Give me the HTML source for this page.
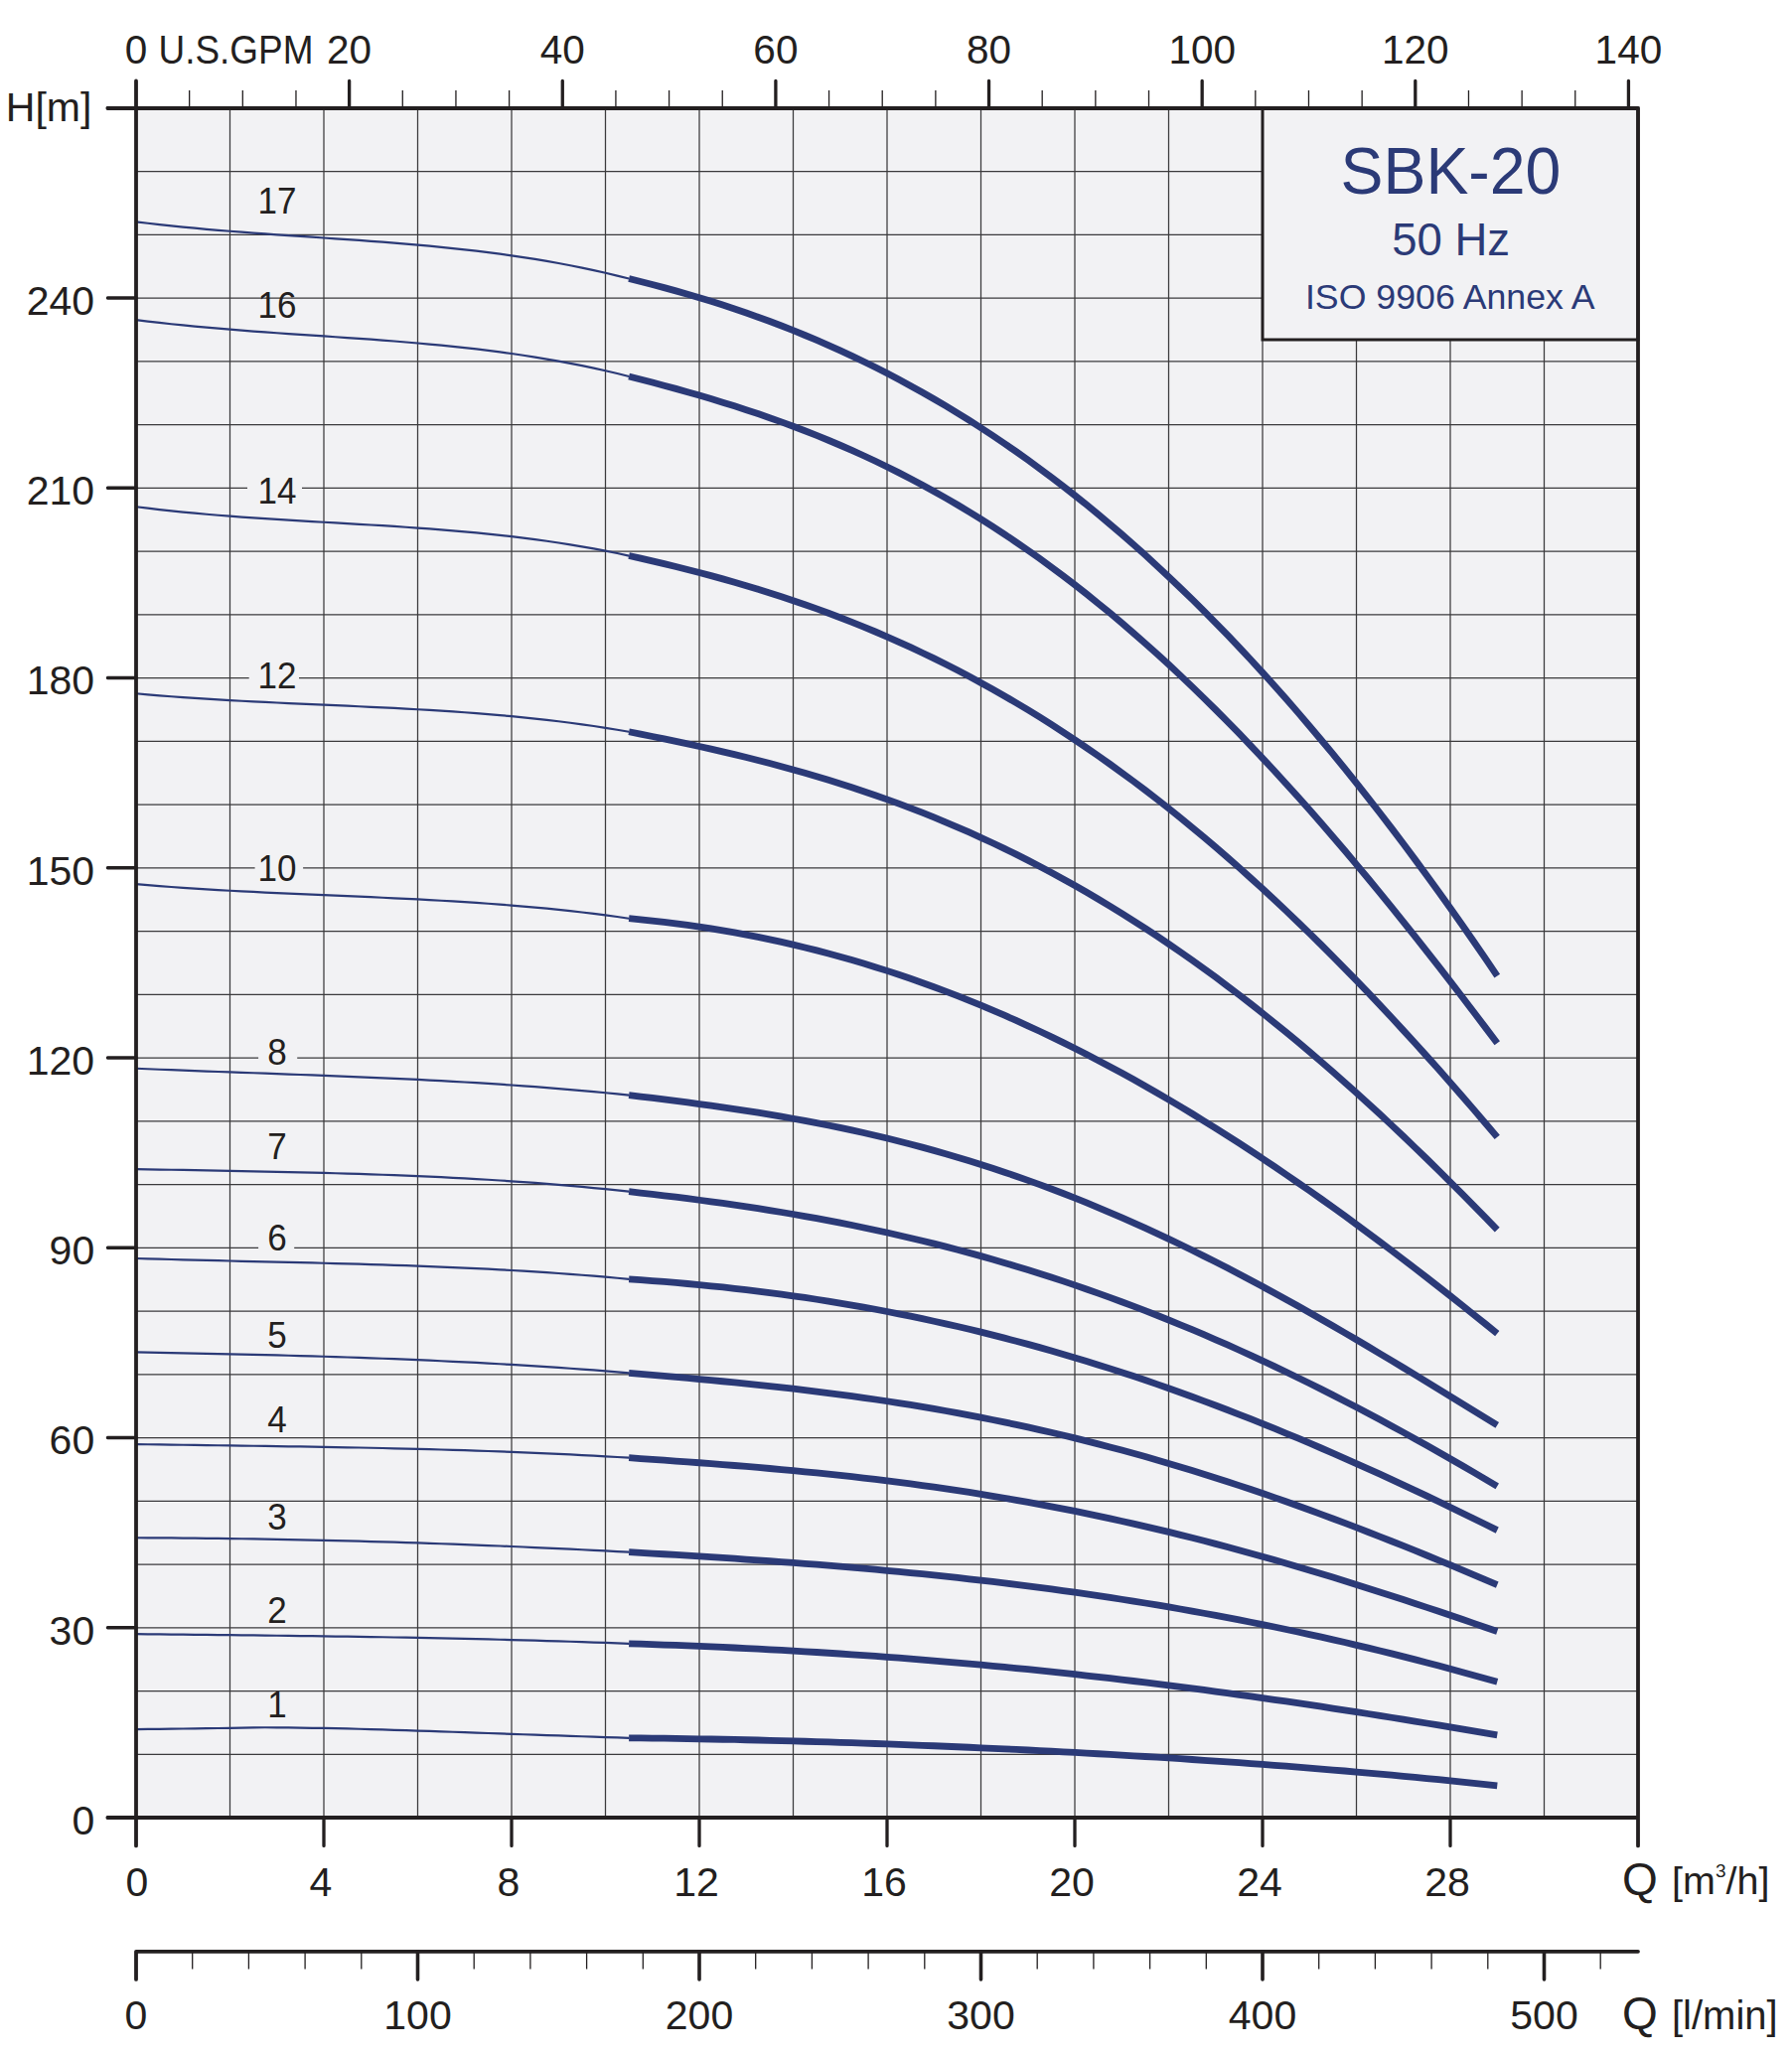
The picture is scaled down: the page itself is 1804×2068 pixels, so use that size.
<!DOCTYPE html><html><head><meta charset="utf-8"><title>SBK-20 pump curves</title><style>html,body{margin:0;padding:0;background:#fff;overflow:hidden}svg{display:block}</style></head><body>
<svg width="1804" height="2068" viewBox="0 0 1804 2068" font-family="'Liberation Sans', sans-serif">
<rect x="0" y="0" width="1804" height="2068" fill="#fff"/>
<rect x="137.0" y="109" width="1512.00" height="1721.0" fill="#f2f2f4"/>
<path d="M231.50 109V1830.0 M326.00 109V1830.0 M420.50 109V1830.0 M515.00 109V1830.0 M609.50 109V1830.0 M704.00 109V1830.0 M798.50 109V1830.0 M893.00 109V1830.0 M987.50 109V1830.0 M1082.00 109V1830.0 M1176.50 109V1830.0 M1271.00 342V1830.0 M1365.50 342V1830.0 M1460.00 342V1830.0 M1554.50 342V1830.0 M137.0 1766.25H1649.00 M137.0 1702.50H1649.00 M137.0 1638.75H1649.00 M137.0 1575.00H1649.00 M137.0 1511.25H1649.00 M137.0 1447.50H1649.00 M137.0 1383.75H1649.00 M137.0 1320.00H1649.00 M137.0 1256.25H1649.00 M137.0 1192.50H1649.00 M137.0 1128.75H1649.00 M137.0 1065.00H1649.00 M137.0 1001.25H1649.00 M137.0 937.50H1649.00 M137.0 873.75H1649.00 M137.0 810.00H1649.00 M137.0 746.25H1649.00 M137.0 682.50H1649.00 M137.0 618.75H1649.00 M137.0 555.00H1649.00 M137.0 491.25H1649.00 M137.0 427.50H1649.00 M137.0 363.75H1649.00 M137.0 300.00H1271.00 M137.0 236.25H1271.00 M137.0 172.50H1271.00" stroke="#3b3a3c" stroke-width="1.25" fill="none"/>
<text x="279" y="215.3" font-size="36.5" text-anchor="middle" fill="#231f20" transform="translate(279 0) scale(0.96 1) translate(-279 0)">17</text>
<text x="279" y="319.9" font-size="36.5" text-anchor="middle" fill="#231f20" transform="translate(279 0) scale(0.96 1) translate(-279 0)">16</text>
<rect x="249" y="479.7" width="55.0" height="30" fill="#f2f2f4"/>
<text x="279" y="507.5" font-size="36.5" text-anchor="middle" fill="#231f20" transform="translate(279 0) scale(0.96 1) translate(-279 0)">14</text>
<rect x="250.7" y="665.4" width="50.3" height="30" fill="#f2f2f4"/>
<text x="279" y="693.2" font-size="36.5" text-anchor="middle" fill="#231f20" transform="translate(279 0) scale(0.96 1) translate(-279 0)">12</text>
<rect x="256.6" y="859.1" width="48.5" height="30" fill="#f2f2f4"/>
<text x="279" y="886.9" font-size="36.5" text-anchor="middle" fill="#231f20" transform="translate(279 0) scale(0.96 1) translate(-279 0)">10</text>
<rect x="260.1" y="1043.8" width="39.1" height="30" fill="#f2f2f4"/>
<text x="279" y="1071.6" font-size="36.5" text-anchor="middle" fill="#231f20" transform="translate(279 0) scale(0.96 1) translate(-279 0)">8</text>
<text x="279" y="1166.6" font-size="36.5" text-anchor="middle" fill="#231f20" transform="translate(279 0) scale(0.96 1) translate(-279 0)">7</text>
<rect x="260.1" y="1231.3" width="36.1" height="30" fill="#f2f2f4"/>
<text x="279" y="1259.1" font-size="36.5" text-anchor="middle" fill="#231f20" transform="translate(279 0) scale(0.96 1) translate(-279 0)">6</text>
<text x="279" y="1356.7" font-size="36.5" text-anchor="middle" fill="#231f20" transform="translate(279 0) scale(0.96 1) translate(-279 0)">5</text>
<text x="279" y="1441.6" font-size="36.5" text-anchor="middle" fill="#231f20" transform="translate(279 0) scale(0.96 1) translate(-279 0)">4</text>
<text x="279" y="1540.3" font-size="36.5" text-anchor="middle" fill="#231f20" transform="translate(279 0) scale(0.96 1) translate(-279 0)">3</text>
<text x="279" y="1633.8" font-size="36.5" text-anchor="middle" fill="#231f20" transform="translate(279 0) scale(0.96 1) translate(-279 0)">2</text>
<text x="279" y="1729.4" font-size="36.5" text-anchor="middle" fill="#231f20" transform="translate(279 0) scale(0.96 1) translate(-279 0)">1</text>
<polyline points="137.00,223.31 148.81,224.75 160.62,226.10 172.44,227.38 184.25,228.58 196.06,229.71 207.88,230.78 219.69,231.80 231.50,232.77 243.31,233.69 255.12,234.58 266.94,235.44 278.75,236.28 290.56,237.09 302.38,237.90 314.19,238.70 326.00,239.50 337.81,240.30 349.62,241.12 361.44,241.96 373.25,242.82 385.06,243.71 396.88,244.64 408.69,245.62 420.50,246.64 432.31,247.72 444.12,248.86 455.94,250.07 467.75,251.35 479.56,252.71 491.38,254.16 503.19,255.71 515.00,257.35 526.81,259.09 538.62,260.95 550.44,262.92 562.25,265.02 574.06,267.25 585.88,269.61 597.69,272.11 609.50,274.76 621.31,277.57 633.12,280.53" fill="none" stroke="#2b3a77" stroke-width="2.2" stroke-linejoin="round"/>
<polyline points="137.00,322.09 148.81,323.56 160.62,324.93 172.44,326.23 184.25,327.45 196.06,328.60 207.88,329.69 219.69,330.72 231.50,331.70 243.31,332.63 255.12,333.53 266.94,334.39 278.75,335.23 290.56,336.05 302.38,336.85 314.19,337.64 326.00,338.44 337.81,339.24 349.62,340.05 361.44,340.87 373.25,341.72 385.06,342.60 396.88,343.52 408.69,344.48 420.50,345.48 432.31,346.55 444.12,347.67 455.94,348.86 467.75,350.12 479.56,351.46 491.38,352.89 503.19,354.41 515.00,356.03 526.81,357.75 538.62,359.59 550.44,361.54 562.25,363.61 574.06,365.81 585.88,368.15 597.69,370.63 609.50,373.26 621.31,376.04 633.12,378.99" fill="none" stroke="#2b3a77" stroke-width="2.2" stroke-linejoin="round"/>
<polyline points="137.00,510.22 148.81,511.69 160.62,513.06 172.44,514.35 184.25,515.55 196.06,516.68 207.88,517.74 219.69,518.73 231.50,519.66 243.31,520.54 255.12,521.38 266.94,522.17 278.75,522.93 290.56,523.67 302.38,524.38 314.19,525.07 326.00,525.75 337.81,526.43 349.62,527.11 361.44,527.80 373.25,528.50 385.06,529.22 396.88,529.97 408.69,530.74 420.50,531.56 432.31,532.42 444.12,533.33 455.94,534.30 467.75,535.32 479.56,536.42 491.38,537.59 503.19,538.83 515.00,540.17 526.81,541.59 538.62,543.12 550.44,544.74 562.25,546.48 574.06,548.33 585.88,550.31 597.69,552.41 609.50,554.65 621.31,557.02 633.12,559.55" fill="none" stroke="#2b3a77" stroke-width="2.2" stroke-linejoin="round"/>
<polyline points="137.00,698.27 148.81,699.33 160.62,700.32 172.44,701.25 184.25,702.12 196.06,702.93 207.88,703.70 219.69,704.42 231.50,705.11 243.31,705.75 255.12,706.37 266.94,706.95 278.75,707.52 290.56,708.07 302.38,708.60 314.19,709.13 326.00,709.65 337.81,710.18 349.62,710.70 361.44,711.24 373.25,711.79 385.06,712.37 396.88,712.96 408.69,713.58 420.50,714.24 432.31,714.93 444.12,715.66 455.94,716.44 467.75,717.27 479.56,718.15 491.38,719.10 503.19,720.11 515.00,721.18 526.81,722.33 538.62,723.56 550.44,724.87 562.25,726.27 574.06,727.76 585.88,729.34 597.69,731.03 609.50,732.82 621.31,734.72 633.12,736.73" fill="none" stroke="#2b3a77" stroke-width="2.2" stroke-linejoin="round"/>
<polyline points="137.00,890.12 148.81,891.13 160.62,892.08 172.44,892.98 184.25,893.82 196.06,894.61 207.88,895.35 219.69,896.06 231.50,896.73 243.31,897.36 255.12,897.96 266.94,898.54 278.75,899.10 290.56,899.64 302.38,900.16 314.19,900.67 326.00,901.18 337.81,901.69 349.62,902.19 361.44,902.70 373.25,903.22 385.06,903.75 396.88,904.30 408.69,904.87 420.50,905.47 432.31,906.09 444.12,906.74 455.94,907.43 467.75,908.16 479.56,908.94 491.38,909.76 503.19,910.63 515.00,911.56 526.81,912.55 538.62,913.60 550.44,914.71 562.25,915.90 574.06,917.16 585.88,918.50 597.69,919.93 609.50,921.43 621.31,923.03 633.12,924.73" fill="none" stroke="#2b3a77" stroke-width="2.2" stroke-linejoin="round"/>
<polyline points="137.00,1075.76 148.81,1076.25 160.62,1076.73 172.44,1077.20 184.25,1077.65 196.06,1078.10 207.88,1078.54 219.69,1078.98 231.50,1079.41 243.31,1079.83 255.12,1080.26 266.94,1080.68 278.75,1081.11 290.56,1081.54 302.38,1081.98 314.19,1082.42 326.00,1082.88 337.81,1083.34 349.62,1083.81 361.44,1084.30 373.25,1084.80 385.06,1085.31 396.88,1085.85 408.69,1086.40 420.50,1086.97 432.31,1087.57 444.12,1088.19 455.94,1088.84 467.75,1089.51 479.56,1090.21 491.38,1090.94 503.19,1091.70 515.00,1092.50 526.81,1093.33 538.62,1094.20 550.44,1095.11 562.25,1096.05 574.06,1097.04 585.88,1098.07 597.69,1099.14 609.50,1100.26 621.31,1101.43 633.12,1102.64" fill="none" stroke="#2b3a77" stroke-width="2.2" stroke-linejoin="round"/>
<polyline points="137.00,1177.08 148.81,1177.31 160.62,1177.54 172.44,1177.75 184.25,1177.97 196.06,1178.18 207.88,1178.40 219.69,1178.61 231.50,1178.83 243.31,1179.06 255.12,1179.29 266.94,1179.53 278.75,1179.78 290.56,1180.04 302.38,1180.32 314.19,1180.60 326.00,1180.91 337.81,1181.23 349.62,1181.57 361.44,1181.94 373.25,1182.32 385.06,1182.73 396.88,1183.17 408.69,1183.63 420.50,1184.12 432.31,1184.64 444.12,1185.20 455.94,1185.78 467.75,1186.41 479.56,1187.07 491.38,1187.76 503.19,1188.50 515.00,1189.28 526.81,1190.10 538.62,1190.97 550.44,1191.88 562.25,1192.84 574.06,1193.85 585.88,1194.91 597.69,1196.03 609.50,1197.20 621.31,1198.42 633.12,1199.70" fill="none" stroke="#2b3a77" stroke-width="2.2" stroke-linejoin="round"/>
<polyline points="137.00,1266.98 148.81,1267.34 160.62,1267.68 172.44,1268.01 184.25,1268.33 196.06,1268.63 207.88,1268.93 219.69,1269.22 231.50,1269.50 243.31,1269.78 255.12,1270.05 266.94,1270.33 278.75,1270.61 290.56,1270.89 302.38,1271.17 314.19,1271.46 326.00,1271.76 337.81,1272.07 349.62,1272.38 361.44,1272.72 373.25,1273.06 385.06,1273.42 396.88,1273.81 408.69,1274.21 420.50,1274.63 432.31,1275.07 444.12,1275.54 455.94,1276.04 467.75,1276.57 479.56,1277.12 491.38,1277.71 503.19,1278.33 515.00,1278.99 526.81,1279.68 538.62,1280.41 550.44,1281.19 562.25,1282.00 574.06,1282.86 585.88,1283.76 597.69,1284.71 609.50,1285.71 621.31,1286.76 633.12,1287.87" fill="none" stroke="#2b3a77" stroke-width="2.2" stroke-linejoin="round"/>
<polyline points="137.00,1361.41 148.81,1361.63 160.62,1361.85 172.44,1362.08 184.25,1362.31 196.06,1362.55 207.88,1362.80 219.69,1363.05 231.50,1363.31 243.31,1363.58 255.12,1363.86 266.94,1364.15 278.75,1364.45 290.56,1364.76 302.38,1365.08 314.19,1365.42 326.00,1365.77 337.81,1366.14 349.62,1366.52 361.44,1366.92 373.25,1367.34 385.06,1367.77 396.88,1368.22 408.69,1368.70 420.50,1369.19 432.31,1369.70 444.12,1370.23 455.94,1370.79 467.75,1371.37 479.56,1371.97 491.38,1372.60 503.19,1373.25 515.00,1373.93 526.81,1374.63 538.62,1375.37 550.44,1376.13 562.25,1376.92 574.06,1377.74 585.88,1378.59 597.69,1379.47 609.50,1380.38 621.31,1381.33 633.12,1382.31" fill="none" stroke="#2b3a77" stroke-width="2.2" stroke-linejoin="round"/>
<polyline points="137.00,1454.07 148.81,1454.25 160.62,1454.42 172.44,1454.60 184.25,1454.76 196.06,1454.93 207.88,1455.09 219.69,1455.26 231.50,1455.42 243.31,1455.59 255.12,1455.76 266.94,1455.93 278.75,1456.11 290.56,1456.29 302.38,1456.47 314.19,1456.67 326.00,1456.87 337.81,1457.08 349.62,1457.29 361.44,1457.52 373.25,1457.76 385.06,1458.02 396.88,1458.28 408.69,1458.56 420.50,1458.86 432.31,1459.17 444.12,1459.49 455.94,1459.84 467.75,1460.20 479.56,1460.58 491.38,1460.98 503.19,1461.41 515.00,1461.85 526.81,1462.32 538.62,1462.81 550.44,1463.33 562.25,1463.87 574.06,1464.44 585.88,1465.03 597.69,1465.66 609.50,1466.31 621.31,1466.99 633.12,1467.71" fill="none" stroke="#2b3a77" stroke-width="2.2" stroke-linejoin="round"/>
<polyline points="137.00,1548.27 148.81,1548.32 160.62,1548.38 172.44,1548.46 184.25,1548.56 196.06,1548.66 207.88,1548.79 219.69,1548.92 231.50,1549.08 243.31,1549.24 255.12,1549.43 266.94,1549.62 278.75,1549.83 290.56,1550.06 302.38,1550.29 314.19,1550.55 326.00,1550.82 337.81,1551.10 349.62,1551.39 361.44,1551.70 373.25,1552.03 385.06,1552.37 396.88,1552.72 408.69,1553.09 420.50,1553.47 432.31,1553.86 444.12,1554.27 455.94,1554.69 467.75,1555.13 479.56,1555.58 491.38,1556.05 503.19,1556.52 515.00,1557.01 526.81,1557.52 538.62,1558.04 550.44,1558.57 562.25,1559.12 574.06,1559.68 585.88,1560.25 597.69,1560.84 609.50,1561.44 621.31,1562.05 633.12,1562.68" fill="none" stroke="#2b3a77" stroke-width="2.2" stroke-linejoin="round"/>
<polyline points="137.00,1645.19 148.81,1645.32 160.62,1645.44 172.44,1645.56 184.25,1645.68 196.06,1645.81 207.88,1645.93 219.69,1646.06 231.50,1646.19 243.31,1646.32 255.12,1646.46 266.94,1646.60 278.75,1646.74 290.56,1646.89 302.38,1647.04 314.19,1647.20 326.00,1647.36 337.81,1647.53 349.62,1647.71 361.44,1647.89 373.25,1648.08 385.06,1648.27 396.88,1648.48 408.69,1648.69 420.50,1648.91 432.31,1649.14 444.12,1649.38 455.94,1649.63 467.75,1649.89 479.56,1650.16 491.38,1650.44 503.19,1650.73 515.00,1651.04 526.81,1651.36 538.62,1651.69 550.44,1652.03 562.25,1652.38 574.06,1652.75 585.88,1653.14 597.69,1653.54 609.50,1653.95 621.31,1654.38 633.12,1654.83" fill="none" stroke="#2b3a77" stroke-width="2.2" stroke-linejoin="round"/>
<polyline points="137.00,1741.07 148.81,1740.93 160.62,1740.79 172.44,1740.64 184.25,1740.48 196.06,1740.32 207.88,1740.16 219.69,1739.99 231.50,1739.82 243.31,1739.60 255.12,1739.36 266.94,1739.26 278.75,1739.30 290.56,1739.42 302.38,1739.58 314.19,1739.78 326.00,1739.97 337.81,1740.19 349.62,1740.46 361.44,1740.76 373.25,1741.09 385.06,1741.45 396.88,1741.81 408.69,1742.19 420.50,1742.55 432.31,1742.92 444.12,1743.32 455.94,1743.73 467.75,1744.14 479.56,1744.57 491.38,1745.00 503.19,1745.42 515.00,1745.83 526.81,1746.23 538.62,1746.64 550.44,1747.05 562.25,1747.45 574.06,1747.85 585.88,1748.25 597.69,1748.65 609.50,1749.04 621.31,1749.43 633.12,1749.81" fill="none" stroke="#2b3a77" stroke-width="2.2" stroke-linejoin="round"/>
<polyline points="633.12,280.53 644.94,283.45 656.75,286.47 668.56,289.61 680.38,292.86 692.19,296.23 704.00,299.73 715.81,303.35 727.62,307.11 739.44,311.01 751.25,315.05 763.06,319.23 774.88,323.56 786.69,328.05 798.50,332.69 810.31,337.49 822.12,342.45 833.94,347.58 845.75,352.88 857.56,358.35 869.38,363.99 881.19,369.82 893.00,375.83 904.81,382.02 916.62,388.40 928.44,394.97 940.25,401.73 952.06,408.69 963.88,415.84 975.69,423.20 987.50,430.76 999.31,438.52 1011.12,446.49 1022.94,454.66 1034.75,463.05 1046.56,471.65 1058.38,480.46 1070.19,489.49 1082.00,498.73 1093.81,508.20 1105.62,517.88 1117.44,527.79 1129.25,537.91 1141.06,548.27 1152.88,558.84 1164.69,569.64 1176.50,580.67 1188.31,591.93 1200.12,603.41 1211.94,615.13 1223.75,627.07 1235.56,639.24 1247.38,651.65 1259.19,664.28 1271.00,677.15 1282.81,690.24 1294.62,703.57 1306.44,717.13 1318.25,730.92 1330.06,744.94 1341.88,759.19 1353.69,773.67 1365.50,788.38 1377.31,803.32 1389.12,818.49 1400.94,833.89 1412.75,849.51 1424.56,865.36 1436.38,881.44 1448.19,897.74 1460.00,914.26 1471.81,931.01 1483.62,947.97 1495.44,965.16 1507.25,982.56" fill="none" stroke="#2b3a77" stroke-width="6.8" stroke-linejoin="round" stroke-linecap="butt"/>
<polyline points="633.12,378.99 644.94,381.99 656.75,385.06 668.56,388.19 680.38,391.40 692.19,394.69 704.00,398.07 715.81,401.55 727.62,405.14 739.44,408.84 751.25,412.66 763.06,416.60 774.88,420.68 786.69,424.90 798.50,429.26 810.31,433.77 822.12,438.43 833.94,443.26 845.75,448.25 857.56,453.42 869.38,458.75 881.19,464.27 893.00,469.97 904.81,475.86 916.62,481.95 928.44,488.22 940.25,494.70 952.06,501.37 963.88,508.26 975.69,515.34 987.50,522.64 999.31,530.15 1011.12,537.87 1022.94,545.81 1034.75,553.97 1046.56,562.35 1058.38,570.94 1070.19,579.76 1082.00,588.79 1093.81,598.05 1105.62,607.54 1117.44,617.24 1129.25,627.17 1141.06,637.32 1152.88,647.69 1164.69,658.28 1176.50,669.09 1188.31,680.12 1200.12,691.37 1211.94,702.83 1223.75,714.50 1235.56,726.39 1247.38,738.49 1259.19,750.79 1271.00,763.30 1282.81,776.01 1294.62,788.92 1306.44,802.02 1318.25,815.32 1330.06,828.80 1341.88,842.46 1353.69,856.31 1365.50,870.32 1377.31,884.51 1389.12,898.87 1400.94,913.38 1412.75,928.05 1424.56,942.87 1436.38,957.84 1448.19,972.94 1460.00,988.17 1471.81,1003.53 1483.62,1019.01 1495.44,1034.60 1507.25,1050.29" fill="none" stroke="#2b3a77" stroke-width="6.8" stroke-linejoin="round" stroke-linecap="butt"/>
<polyline points="633.12,559.55 644.94,562.18 656.75,564.88 668.56,567.66 680.38,570.53 692.19,573.47 704.00,576.51 715.81,579.65 727.62,582.88 739.44,586.22 751.25,589.67 763.06,593.24 774.88,596.92 786.69,600.73 798.50,604.66 810.31,608.72 822.12,612.91 833.94,617.24 845.75,621.72 857.56,626.33 869.38,631.10 881.19,636.01 893.00,641.07 904.81,646.30 916.62,651.68 928.44,657.22 940.25,662.92 952.06,668.79 963.88,674.83 975.69,681.04 987.50,687.42 999.31,693.97 1011.12,700.70 1022.94,707.61 1034.75,714.69 1046.56,721.95 1058.38,729.40 1070.19,737.02 1082.00,744.83 1093.81,752.82 1105.62,761.00 1117.44,769.36 1129.25,777.90 1141.06,786.63 1152.88,795.55 1164.69,804.65 1176.50,813.94 1188.31,823.41 1200.12,833.06 1211.94,842.90 1223.75,852.93 1235.56,863.14 1247.38,873.53 1259.19,884.10 1271.00,894.85 1282.81,905.78 1294.62,916.88 1306.44,928.17 1318.25,939.63 1330.06,951.26 1341.88,963.06 1353.69,975.03 1365.50,987.16 1377.31,999.47 1389.12,1011.93 1400.94,1024.55 1412.75,1037.33 1424.56,1050.27 1436.38,1063.35 1448.19,1076.59 1460.00,1089.97 1471.81,1103.49 1483.62,1117.15 1495.44,1130.95 1507.25,1144.88" fill="none" stroke="#2b3a77" stroke-width="6.8" stroke-linejoin="round" stroke-linecap="butt"/>
<polyline points="633.12,736.73 644.94,739.09 656.75,741.47 668.56,743.90 680.38,746.38 692.19,748.91 704.00,751.49 715.81,754.14 727.62,756.86 739.44,759.66 751.25,762.53 763.06,765.49 774.88,768.54 786.69,771.68 798.50,774.92 810.31,778.26 822.12,781.71 833.94,785.27 845.75,788.94 857.56,792.74 869.38,796.66 881.19,800.70 893.00,804.87 904.81,809.18 916.62,813.62 928.44,818.20 940.25,822.92 952.06,827.79 963.88,832.81 975.69,837.97 987.50,843.29 999.31,848.76 1011.12,854.39 1022.94,860.17 1034.75,866.12 1046.56,872.22 1058.38,878.49 1070.19,884.92 1082.00,891.52 1093.81,898.29 1105.62,905.22 1117.44,912.32 1129.25,919.59 1141.06,927.03 1152.88,934.64 1164.69,942.42 1176.50,950.37 1188.31,958.49 1200.12,966.78 1211.94,975.24 1223.75,983.87 1235.56,992.67 1247.38,1001.63 1259.19,1010.76 1271.00,1020.06 1282.81,1029.53 1294.62,1039.15 1306.44,1048.94 1318.25,1058.89 1330.06,1069.00 1341.88,1079.26 1353.69,1089.69 1365.50,1100.26 1377.31,1110.98 1389.12,1121.86 1400.94,1132.87 1412.75,1144.04 1424.56,1155.34 1436.38,1166.78 1448.19,1178.35 1460.00,1190.06 1471.81,1201.89 1483.62,1213.85 1495.44,1225.93 1507.25,1238.12" fill="none" stroke="#2b3a77" stroke-width="6.8" stroke-linejoin="round" stroke-linecap="butt"/>
<polyline points="633.12,924.73 644.94,925.84 656.75,927.07 668.56,928.41 680.38,929.86 692.19,931.44 704.00,933.13 715.81,934.95 727.62,936.89 739.44,938.95 751.25,941.13 763.06,943.44 774.88,945.88 786.69,948.44 798.50,951.13 810.31,953.95 822.12,956.90 833.94,959.99 845.75,963.20 857.56,966.55 869.38,970.03 881.19,973.64 893.00,977.38 904.81,981.26 916.62,985.28 928.44,989.43 940.25,993.71 952.06,998.12 963.88,1002.67 975.69,1007.36 987.50,1012.18 999.31,1017.13 1011.12,1022.22 1022.94,1027.44 1034.75,1032.79 1046.56,1038.28 1058.38,1043.90 1070.19,1049.64 1082.00,1055.52 1093.81,1061.53 1105.62,1067.67 1117.44,1073.93 1129.25,1080.33 1141.06,1086.84 1152.88,1093.49 1164.69,1100.25 1176.50,1107.14 1188.31,1114.15 1200.12,1121.28 1211.94,1128.53 1223.75,1135.89 1235.56,1143.37 1247.38,1150.97 1259.19,1158.67 1271.00,1166.49 1282.81,1174.41 1294.62,1182.44 1306.44,1190.58 1318.25,1198.81 1330.06,1207.15 1341.88,1215.58 1353.69,1224.11 1365.50,1232.74 1377.31,1241.45 1389.12,1250.25 1400.94,1259.14 1412.75,1268.11 1424.56,1277.17 1436.38,1286.30 1448.19,1295.50 1460.00,1304.78 1471.81,1314.12 1483.62,1323.54 1495.44,1333.01 1507.25,1342.55" fill="none" stroke="#2b3a77" stroke-width="6.8" stroke-linejoin="round" stroke-linecap="butt"/>
<polyline points="633.12,1102.64 644.94,1104.06 656.75,1105.49 668.56,1106.95 680.38,1108.45 692.19,1109.98 704.00,1111.55 715.81,1113.17 727.62,1114.85 739.44,1116.58 751.25,1118.37 763.06,1120.23 774.88,1122.15 786.69,1124.16 798.50,1126.23 810.31,1128.39 822.12,1130.64 833.94,1132.97 845.75,1135.39 857.56,1137.91 869.38,1140.52 881.19,1143.23 893.00,1146.04 904.81,1148.96 916.62,1151.98 928.44,1155.11 940.25,1158.35 952.06,1161.70 963.88,1165.17 975.69,1168.74 987.50,1172.43 999.31,1176.24 1011.12,1180.17 1022.94,1184.21 1034.75,1188.37 1046.56,1192.64 1058.38,1197.04 1070.19,1201.55 1082.00,1206.18 1093.81,1210.92 1105.62,1215.78 1117.44,1220.76 1129.25,1225.85 1141.06,1231.06 1152.88,1236.37 1164.69,1241.80 1176.50,1247.34 1188.31,1252.99 1200.12,1258.74 1211.94,1264.59 1223.75,1270.54 1235.56,1276.59 1247.38,1282.74 1259.19,1288.98 1271.00,1295.32 1282.81,1301.73 1294.62,1308.24 1306.44,1314.82 1318.25,1321.48 1330.06,1328.21 1341.88,1335.01 1353.69,1341.87 1365.50,1348.80 1377.31,1355.78 1389.12,1362.81 1400.94,1369.88 1412.75,1377.00 1424.56,1384.16 1436.38,1391.34 1448.19,1398.55 1460.00,1405.78 1471.81,1413.03 1483.62,1420.28 1495.44,1427.54 1507.25,1434.78" fill="none" stroke="#2b3a77" stroke-width="6.8" stroke-linejoin="round" stroke-linecap="butt"/>
<polyline points="633.12,1199.70 644.94,1201.02 656.75,1202.38 668.56,1203.78 680.38,1205.22 692.19,1206.71 704.00,1208.25 715.81,1209.83 727.62,1211.47 739.44,1213.16 751.25,1214.91 763.06,1216.71 774.88,1218.58 786.69,1220.51 798.50,1222.51 810.31,1224.57 822.12,1226.71 833.94,1228.91 845.75,1231.18 857.56,1233.53 869.38,1235.96 881.19,1238.46 893.00,1241.04 904.81,1243.70 916.62,1246.44 928.44,1249.26 940.25,1252.16 952.06,1255.15 963.88,1258.23 975.69,1261.39 987.50,1264.64 999.31,1267.98 1011.12,1271.40 1022.94,1274.92 1034.75,1278.52 1046.56,1282.22 1058.38,1286.01 1070.19,1289.89 1082.00,1293.87 1093.81,1297.93 1105.62,1302.09 1117.44,1306.34 1129.25,1310.69 1141.06,1315.13 1152.88,1319.66 1164.69,1324.28 1176.50,1329.00 1188.31,1333.81 1200.12,1338.71 1211.94,1343.71 1223.75,1348.80 1235.56,1353.98 1247.38,1359.25 1259.19,1364.61 1271.00,1370.06 1282.81,1375.60 1294.62,1381.23 1306.44,1386.94 1318.25,1392.74 1330.06,1398.63 1341.88,1404.60 1353.69,1410.66 1365.50,1416.79 1377.31,1423.01 1389.12,1429.31 1400.94,1435.69 1412.75,1442.14 1424.56,1448.67 1436.38,1455.27 1448.19,1461.95 1460.00,1468.69 1471.81,1475.50 1483.62,1482.39 1495.44,1489.33 1507.25,1496.34" fill="none" stroke="#2b3a77" stroke-width="6.8" stroke-linejoin="round" stroke-linecap="butt"/>
<polyline points="633.12,1287.87 644.94,1288.68 656.75,1289.54 668.56,1290.47 680.38,1291.45 692.19,1292.49 704.00,1293.59 715.81,1294.76 727.62,1295.99 739.44,1297.28 751.25,1298.64 763.06,1300.07 774.88,1301.57 786.69,1303.13 798.50,1304.77 810.31,1306.48 822.12,1308.26 833.94,1310.11 845.75,1312.04 857.56,1314.04 869.38,1316.12 881.19,1318.27 893.00,1320.50 904.81,1322.81 916.62,1325.19 928.44,1327.66 940.25,1330.20 952.06,1332.82 963.88,1335.52 975.69,1338.30 987.50,1341.16 999.31,1344.10 1011.12,1347.12 1022.94,1350.22 1034.75,1353.39 1046.56,1356.65 1058.38,1359.99 1070.19,1363.41 1082.00,1366.91 1093.81,1370.49 1105.62,1374.15 1117.44,1377.88 1129.25,1381.70 1141.06,1385.59 1152.88,1389.56 1164.69,1393.61 1176.50,1397.74 1188.31,1401.94 1200.12,1406.22 1211.94,1410.57 1223.75,1414.99 1235.56,1419.49 1247.38,1424.06 1259.19,1428.70 1271.00,1433.42 1282.81,1438.20 1294.62,1443.05 1306.44,1447.97 1318.25,1452.95 1330.06,1458.00 1341.88,1463.12 1353.69,1468.30 1365.50,1473.53 1377.31,1478.83 1389.12,1484.19 1400.94,1489.60 1412.75,1495.07 1424.56,1500.60 1436.38,1506.17 1448.19,1511.80 1460.00,1517.48 1471.81,1523.20 1483.62,1528.97 1495.44,1534.78 1507.25,1540.64" fill="none" stroke="#2b3a77" stroke-width="6.8" stroke-linejoin="round" stroke-linecap="butt"/>
<polyline points="633.12,1382.31 644.94,1383.31 656.75,1384.33 668.56,1385.35 680.38,1386.39 692.19,1387.45 704.00,1388.52 715.81,1389.62 727.62,1390.75 739.44,1391.91 751.25,1393.10 763.06,1394.32 774.88,1395.58 786.69,1396.88 798.50,1398.23 810.31,1399.62 822.12,1401.05 833.94,1402.54 845.75,1404.07 857.56,1405.66 869.38,1407.30 881.19,1409.00 893.00,1410.76 904.81,1412.58 916.62,1414.46 928.44,1416.41 940.25,1418.41 952.06,1420.49 963.88,1422.63 975.69,1424.84 987.50,1427.11 999.31,1429.46 1011.12,1431.88 1022.94,1434.37 1034.75,1436.93 1046.56,1439.57 1058.38,1442.27 1070.19,1445.06 1082.00,1447.91 1093.81,1450.84 1105.62,1453.84 1117.44,1456.92 1129.25,1460.08 1141.06,1463.30 1152.88,1466.60 1164.69,1469.98 1176.50,1473.43 1188.31,1476.95 1200.12,1480.54 1211.94,1484.21 1223.75,1487.95 1235.56,1491.75 1247.38,1495.63 1259.19,1499.57 1271.00,1503.58 1282.81,1507.66 1294.62,1511.80 1306.44,1516.01 1318.25,1520.28 1330.06,1524.61 1341.88,1528.99 1353.69,1533.44 1365.50,1537.94 1377.31,1542.49 1389.12,1547.10 1400.94,1551.76 1412.75,1556.46 1424.56,1561.21 1436.38,1566.00 1448.19,1570.83 1460.00,1575.70 1471.81,1580.61 1483.62,1585.55 1495.44,1590.52 1507.25,1595.52" fill="none" stroke="#2b3a77" stroke-width="6.8" stroke-linejoin="round" stroke-linecap="butt"/>
<polyline points="633.12,1467.71 644.94,1468.52 656.75,1469.34 668.56,1470.18 680.38,1471.02 692.19,1471.88 704.00,1472.75 715.81,1473.65 727.62,1474.57 739.44,1475.51 751.25,1476.48 763.06,1477.47 774.88,1478.50 786.69,1479.57 798.50,1480.66 810.31,1481.80 822.12,1482.97 833.94,1484.18 845.75,1485.44 857.56,1486.74 869.38,1488.09 881.19,1489.48 893.00,1490.92 904.81,1492.41 916.62,1493.96 928.44,1495.55 940.25,1497.20 952.06,1498.90 963.88,1500.66 975.69,1502.47 987.50,1504.35 999.31,1506.28 1011.12,1508.26 1022.94,1510.31 1034.75,1512.42 1046.56,1514.58 1058.38,1516.81 1070.19,1519.10 1082.00,1521.45 1093.81,1523.86 1105.62,1526.33 1117.44,1528.86 1129.25,1531.45 1141.06,1534.11 1152.88,1536.82 1164.69,1539.60 1176.50,1542.43 1188.31,1545.33 1200.12,1548.28 1211.94,1551.30 1223.75,1554.37 1235.56,1557.50 1247.38,1560.68 1259.19,1563.92 1271.00,1567.22 1282.81,1570.57 1294.62,1573.97 1306.44,1577.42 1318.25,1580.92 1330.06,1584.48 1341.88,1588.08 1353.69,1591.72 1365.50,1595.41 1377.31,1599.14 1389.12,1602.92 1400.94,1606.73 1412.75,1610.58 1424.56,1614.47 1436.38,1618.39 1448.19,1622.34 1460.00,1626.32 1471.81,1630.33 1483.62,1634.36 1495.44,1638.42 1507.25,1642.49" fill="none" stroke="#2b3a77" stroke-width="6.8" stroke-linejoin="round" stroke-linecap="butt"/>
<polyline points="633.12,1562.68 644.94,1563.36 656.75,1564.06 668.56,1564.76 680.38,1565.47 692.19,1566.20 704.00,1566.93 715.81,1567.68 727.62,1568.45 739.44,1569.23 751.25,1570.02 763.06,1570.84 774.88,1571.67 786.69,1572.53 798.50,1573.41 810.31,1574.30 822.12,1575.23 833.94,1576.17 845.75,1577.14 857.56,1578.14 869.38,1579.17 881.19,1580.22 893.00,1581.30 904.81,1582.41 916.62,1583.56 928.44,1584.73 940.25,1585.94 952.06,1587.18 963.88,1588.45 975.69,1589.76 987.50,1591.10 999.31,1592.48 1011.12,1593.90 1022.94,1595.35 1034.75,1596.85 1046.56,1598.38 1058.38,1599.95 1070.19,1601.56 1082.00,1603.21 1093.81,1604.91 1105.62,1606.64 1117.44,1608.42 1129.25,1610.24 1141.06,1612.10 1152.88,1614.01 1164.69,1615.97 1176.50,1617.96 1188.31,1620.01 1200.12,1622.09 1211.94,1624.23 1223.75,1626.41 1235.56,1628.64 1247.38,1630.91 1259.19,1633.23 1271.00,1635.60 1282.81,1638.02 1294.62,1640.49 1306.44,1643.00 1318.25,1645.57 1330.06,1648.18 1341.88,1650.84 1353.69,1653.55 1365.50,1656.32 1377.31,1659.13 1389.12,1661.99 1400.94,1664.90 1412.75,1667.86 1424.56,1670.87 1436.38,1673.93 1448.19,1677.04 1460.00,1680.20 1471.81,1683.41 1483.62,1686.67 1495.44,1689.98 1507.25,1693.34" fill="none" stroke="#2b3a77" stroke-width="6.8" stroke-linejoin="round" stroke-linecap="butt"/>
<polyline points="633.12,1654.83 644.94,1655.21 656.75,1655.61 668.56,1656.03 680.38,1656.47 692.19,1656.93 704.00,1657.42 715.81,1657.92 727.62,1658.45 739.44,1659.00 751.25,1659.57 763.06,1660.17 774.88,1660.79 786.69,1661.43 798.50,1662.10 810.31,1662.79 822.12,1663.51 833.94,1664.25 845.75,1665.01 857.56,1665.80 869.38,1666.62 881.19,1667.46 893.00,1668.33 904.81,1669.22 916.62,1670.14 928.44,1671.08 940.25,1672.05 952.06,1673.04 963.88,1674.07 975.69,1675.11 987.50,1676.19 999.31,1677.29 1011.12,1678.41 1022.94,1679.56 1034.75,1680.74 1046.56,1681.95 1058.38,1683.18 1070.19,1684.43 1082.00,1685.71 1093.81,1687.02 1105.62,1688.35 1117.44,1689.71 1129.25,1691.09 1141.06,1692.50 1152.88,1693.94 1164.69,1695.39 1176.50,1696.87 1188.31,1698.38 1200.12,1699.91 1211.94,1701.46 1223.75,1703.04 1235.56,1704.64 1247.38,1706.26 1259.19,1707.91 1271.00,1709.57 1282.81,1711.26 1294.62,1712.97 1306.44,1714.70 1318.25,1716.46 1330.06,1718.23 1341.88,1720.02 1353.69,1721.83 1365.50,1723.66 1377.31,1725.50 1389.12,1727.37 1400.94,1729.25 1412.75,1731.15 1424.56,1733.07 1436.38,1735.00 1448.19,1736.94 1460.00,1738.90 1471.81,1740.88 1483.62,1742.87 1495.44,1744.87 1507.25,1746.88" fill="none" stroke="#2b3a77" stroke-width="6.8" stroke-linejoin="round" stroke-linecap="butt"/>
<polyline points="633.12,1749.81 644.94,1749.93 656.75,1750.07 668.56,1750.22 680.38,1750.39 692.19,1750.58 704.00,1750.78 715.81,1751.00 727.62,1751.23 739.44,1751.47 751.25,1751.74 763.06,1752.01 774.88,1752.30 786.69,1752.60 798.50,1752.92 810.31,1753.25 822.12,1753.60 833.94,1753.96 845.75,1754.33 857.56,1754.71 869.38,1755.11 881.19,1755.52 893.00,1755.94 904.81,1756.38 916.62,1756.83 928.44,1757.29 940.25,1757.76 952.06,1758.25 963.88,1758.75 975.69,1759.26 987.50,1759.78 999.31,1760.32 1011.12,1760.87 1022.94,1761.43 1034.75,1762.01 1046.56,1762.60 1058.38,1763.20 1070.19,1763.82 1082.00,1764.44 1093.81,1765.09 1105.62,1765.74 1117.44,1766.41 1129.25,1767.09 1141.06,1767.79 1152.88,1768.50 1164.69,1769.23 1176.50,1769.97 1188.31,1770.72 1200.12,1771.49 1211.94,1772.28 1223.75,1773.08 1235.56,1773.90 1247.38,1774.73 1259.19,1775.58 1271.00,1776.45 1282.81,1777.33 1294.62,1778.23 1306.44,1779.15 1318.25,1780.09 1330.06,1781.04 1341.88,1782.02 1353.69,1783.01 1365.50,1784.03 1377.31,1785.06 1389.12,1786.12 1400.94,1787.19 1412.75,1788.29 1424.56,1789.41 1436.38,1790.56 1448.19,1791.72 1460.00,1792.91 1471.81,1794.12 1483.62,1795.36 1495.44,1796.63 1507.25,1797.91" fill="none" stroke="#2b3a77" stroke-width="6.8" stroke-linejoin="round" stroke-linecap="butt"/>
<rect x="1271" y="109" width="378.00" height="233" fill="#f2f2f4" stroke="#231f20" stroke-width="3"/>
<text x="1460.5" y="194.6" font-size="66" text-anchor="middle" fill="#2b3a77" transform="translate(1460.5 0) scale(0.975 1) translate(-1460.5 0)">SBK-20</text>
<text x="1460.7" y="257.2" font-size="45.5" text-anchor="middle" fill="#2b3a77">50 Hz</text>
<text x="1459.8" y="311" font-size="35.7" text-anchor="middle" fill="#2b3a77">ISO 9906 Annex A</text>
<path d="M137.0 81.4V1858.4 M108.4 109H1649.00V1858.4 M108.4 1830.0H1649.00" stroke="#231f20" stroke-width="3.8" fill="none" stroke-linecap="round" stroke-linejoin="round"/>
<path d="M108.4 1830.00H137.0 M108.4 1638.75H137.0 M108.4 1447.50H137.0 M108.4 1256.25H137.0 M108.4 1065.00H137.0 M108.4 873.75H137.0 M108.4 682.50H137.0 M108.4 491.25H137.0 M108.4 300.00H137.0 M108.4 108.75H137.0 M326.00 1830.0V1858.4 M515.00 1830.0V1858.4 M704.00 1830.0V1858.4 M893.00 1830.0V1858.4 M1082.00 1830.0V1858.4 M1271.00 1830.0V1858.4 M1460.00 1830.0V1858.4 M351.63 81.3V109 M566.27 81.3V109 M780.90 81.3V109 M995.53 81.3V109 M1210.17 81.3V109 M1424.80 81.3V109 M1639.43 81.3V109" stroke="#231f20" stroke-width="3.3" fill="none" stroke-linecap="round"/>
<path d="M190.66 91V109 M244.32 91V109 M297.97 91V109 M405.29 91V109 M458.95 91V109 M512.61 91V109 M619.92 91V109 M673.58 91V109 M727.24 91V109 M834.56 91V109 M888.22 91V109 M941.87 91V109 M1049.19 91V109 M1102.85 91V109 M1156.51 91V109 M1263.82 91V109 M1317.48 91V109 M1371.14 91V109 M1478.46 91V109 M1532.12 91V109 M1585.77 91V109" stroke="#231f20" stroke-width="1.3" fill="none"/>
<path d="M137.0 1992.9V1964.8 H1649.00" stroke="#231f20" stroke-width="3.8" fill="none" stroke-linecap="round" stroke-linejoin="round"/>
<path d="M420.50 1964.8V1992.9 M704.00 1964.8V1992.9 M987.50 1964.8V1992.9 M1271.00 1964.8V1992.9 M1554.50 1964.8V1992.9" stroke="#231f20" stroke-width="3.6" fill="none" stroke-linecap="round"/>
<path d="M193.70 1964.8V1982.4 M250.40 1964.8V1982.4 M307.10 1964.8V1982.4 M363.80 1964.8V1982.4 M477.20 1964.8V1982.4 M533.90 1964.8V1982.4 M590.60 1964.8V1982.4 M647.30 1964.8V1982.4 M760.70 1964.8V1982.4 M817.40 1964.8V1982.4 M874.10 1964.8V1982.4 M930.80 1964.8V1982.4 M1044.20 1964.8V1982.4 M1100.90 1964.8V1982.4 M1157.60 1964.8V1982.4 M1214.30 1964.8V1982.4 M1327.70 1964.8V1982.4 M1384.40 1964.8V1982.4 M1441.10 1964.8V1982.4 M1497.80 1964.8V1982.4 M1611.20 1964.8V1982.4" stroke="#231f20" stroke-width="1.3" fill="none"/>
<text x="137.0" y="64.3" font-size="40.5" text-anchor="middle" fill="#231f20">0</text>
<text x="159.5" y="64.3" font-size="40.5" text-anchor="start" fill="#231f20" textLength="156" lengthAdjust="spacingAndGlyphs">U.S.GPM</text>
<text x="351.6" y="64.3" font-size="40.5" text-anchor="middle" fill="#231f20">20</text>
<text x="566.3" y="64.3" font-size="40.5" text-anchor="middle" fill="#231f20">40</text>
<text x="780.9" y="64.3" font-size="40.5" text-anchor="middle" fill="#231f20">60</text>
<text x="995.5" y="64.3" font-size="40.5" text-anchor="middle" fill="#231f20">80</text>
<text x="1210.2" y="64.3" font-size="40.5" text-anchor="middle" fill="#231f20">100</text>
<text x="1424.8" y="64.3" font-size="40.5" text-anchor="middle" fill="#231f20">120</text>
<text x="1639.4" y="64.3" font-size="40.5" text-anchor="middle" fill="#231f20">140</text>
<text x="5.8" y="122.2" font-size="41" text-anchor="start" fill="#231f20">H[m]</text>
<text x="95.2" y="1846.8" font-size="41" text-anchor="end" fill="#231f20">0</text>
<text x="95.2" y="1655.5" font-size="41" text-anchor="end" fill="#231f20">30</text>
<text x="95.2" y="1464.3" font-size="41" text-anchor="end" fill="#231f20">60</text>
<text x="95.2" y="1273.0" font-size="41" text-anchor="end" fill="#231f20">90</text>
<text x="95.2" y="1081.8" font-size="41" text-anchor="end" fill="#231f20">120</text>
<text x="95.2" y="890.5" font-size="41" text-anchor="end" fill="#231f20">150</text>
<text x="95.2" y="699.3" font-size="41" text-anchor="end" fill="#231f20">180</text>
<text x="95.2" y="508.1" font-size="41" text-anchor="end" fill="#231f20">210</text>
<text x="95.2" y="316.8" font-size="41" text-anchor="end" fill="#231f20">240</text>
<text x="138.0" y="1909.0" font-size="41" text-anchor="middle" fill="#231f20">0</text>
<text x="323.0" y="1909.0" font-size="41" text-anchor="middle" fill="#231f20">4</text>
<text x="512.0" y="1909.0" font-size="41" text-anchor="middle" fill="#231f20">8</text>
<text x="701.0" y="1909.0" font-size="41" text-anchor="middle" fill="#231f20">12</text>
<text x="890.0" y="1909.0" font-size="41" text-anchor="middle" fill="#231f20">16</text>
<text x="1079.0" y="1909.0" font-size="41" text-anchor="middle" fill="#231f20">20</text>
<text x="1268.0" y="1909.0" font-size="41" text-anchor="middle" fill="#231f20">24</text>
<text x="1457.0" y="1909.0" font-size="41" text-anchor="middle" fill="#231f20">28</text>
<text x="137.0" y="2043.0" font-size="41" text-anchor="middle" fill="#231f20">0</text>
<text x="420.5" y="2043.0" font-size="41" text-anchor="middle" fill="#231f20">100</text>
<text x="704.0" y="2043.0" font-size="41" text-anchor="middle" fill="#231f20">200</text>
<text x="987.5" y="2043.0" font-size="41" text-anchor="middle" fill="#231f20">300</text>
<text x="1271.0" y="2043.0" font-size="41" text-anchor="middle" fill="#231f20">400</text>
<text x="1554.5" y="2043.0" font-size="41" text-anchor="middle" fill="#231f20">500</text>
<text x="1633" y="1907.8" font-size="46" fill="#231f20">Q</text>
<text x="1683" y="1907" font-size="39.5" fill="#231f20">[m<tspan font-size="19" dy="-17">3</tspan><tspan dy="17">/h]</tspan></text>
<text x="1633" y="2042.7" font-size="46" fill="#231f20">Q</text>
<text x="1683" y="2042.7" font-size="40" fill="#231f20">[l/min]</text>
</svg></body></html>
